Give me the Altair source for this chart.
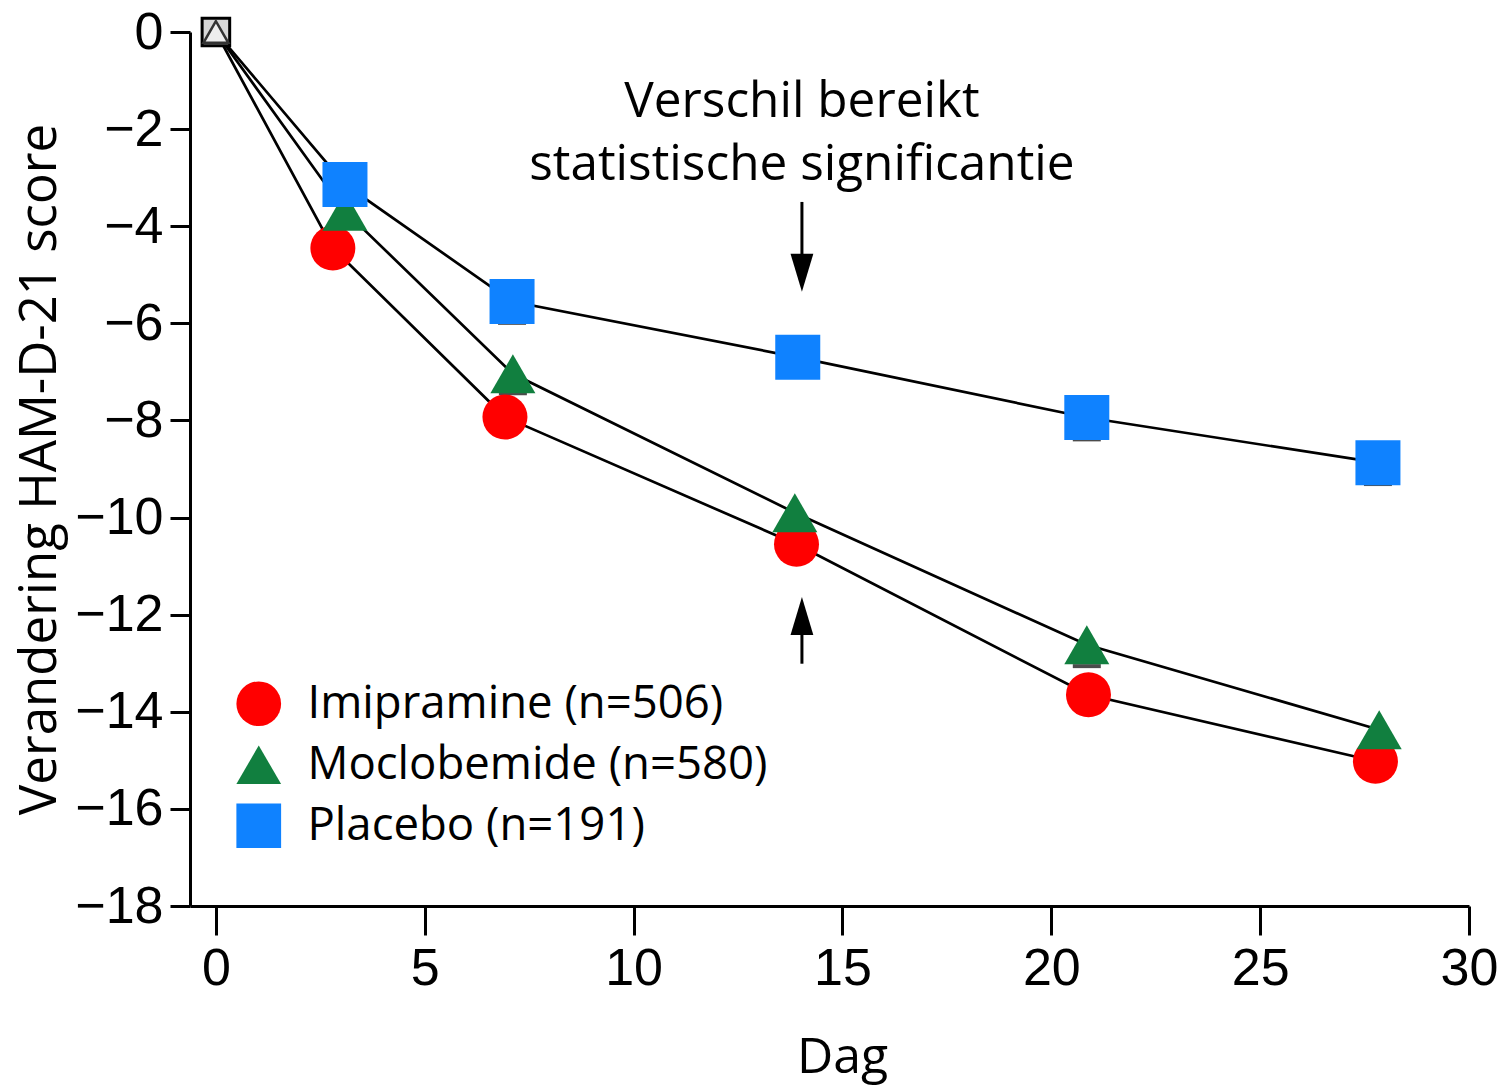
import altair as alt
import pandas as pd

# ---- data ----
series = ["Imipramine (n=506)", "Moclobemide (n=580)", "Placebo (n=191)"]
colors = ["#ff0000", "#117f3f", "#0f82ff"]
shapes = ["circle", "triangle-up", "square"]

imi_day = [0, 2.80, 6.92, 13.90, 20.89, 27.76]
imi_val = [0, -4.45, -7.93, -10.55, -13.65, -15.02]
imi_err = [0, 0.25, 0.25, 0.25, 0.25, 0.25]

moc_day = [0, 3.09, 7.11, 13.86, 20.85, 27.85]
moc_val = [0, -3.69, -7.04, -9.90, -12.62, -14.37]
moc_err = [0, 0.25, 0.40, 0.25, 0.44, 0.25]

pla_day = [0, 3.09, 7.09, 13.93, 20.85, 27.82]
pla_val = [0, -3.14, -5.55, -6.70, -7.94, -8.87]
pla_err = [0, 0.25, 0.44, 0.25, 0.45, 0.44]

x_ticks = [0, 5, 10, 15, 20, 25, 30]
y_ticks = [0, -2, -4, -6, -8, -10, -12, -14, -16, -18]

annot_lines = ["Verschil bereikt", "statistische significantie"]
annot_x = 14.03
annot_y = [-1.45, -2.73]

arrow_x = 14.03
arrow_down_shaft = (-3.50, -4.80)
arrow_down_head = -4.96
arrow_up_shaft = (-13.01, -12.20)
arrow_up_head = -12.03

# ---- tables ----
rows = []
for name, d, v, e in [(series[0], imi_day, imi_val, imi_err),
                      (series[1], moc_day, moc_val, moc_err),
                      (series[2], pla_day, pla_val, pla_err)]:
    for di, vi, ei in zip(d, v, e):
        rows.append({"series": name, "day": di, "val": vi, "low": vi - ei})
df = pd.DataFrame(rows)

annot_df = pd.DataFrame({"x": [annot_x] * 2, "y": annot_y, "t": annot_lines})
shaft_df = pd.DataFrame({"x": [arrow_x, arrow_x],
                         "y": [arrow_down_shaft[0], arrow_up_shaft[0]],
                         "y2": [arrow_down_shaft[1], arrow_up_shaft[1]]})
head_down_df = pd.DataFrame({"x": [arrow_x], "y": [arrow_down_head]})
head_up_df = pd.DataFrame({"x": [arrow_x], "y": [arrow_up_head]})
origin_df = pd.DataFrame({"x": [0], "y": [0]})

xs = alt.Scale(domain=[-0.62, 30], nice=False, zero=False)
ys = alt.Scale(domain=[-18, 0], nice=False, zero=False)

tick_font = "Liberation Sans"
text_font = "Open Sans"

X = alt.X("day:Q", scale=xs, axis=alt.Axis(
    values=x_ticks, format="d", title="Dag", grid=False,
    domainColor="black", domainWidth=3, tickColor="black", tickWidth=3, tickSize=29,
    labelFont=tick_font, labelFontSize=52, labelColor="black", labelPadding=8,
    labelFlush=False, labelOverlap=False,
    titleFont=text_font, titleFontSize=50, titleFontWeight="normal", titleColor="black",
    titleX=652, titleY=166, titleBaseline="alphabetic", titleAlign="center"))
Y = alt.Y("val:Q", scale=ys, axis=alt.Axis(
    values=y_ticks, format="d", title="Verandering HAM-D-21 score", grid=False,
    domainColor="black", domainWidth=3, tickColor="black", tickWidth=3, tickSize=20,
    labelFont=tick_font, labelFontSize=52, labelColor="black", labelPadding=7,
    labelFlush=False, labelOverlap=False,
    titleFont=text_font, titleFontSize=51, titleFontWeight="normal", titleColor="black",
    titleX=-150, titleY=437, titleAngle=270, titleAlign="center",
    titleBaseline="middle"))

leg = alt.Legend(title=None, orient="none", legendX=46, legendY=649,
                 labelFont=text_font, labelFontSize=45.5,
                 labelColor="black", labelOffset=26,
                 symbolSize=2000, symbolStrokeWidth=0, symbolOpacity=1,
                 rowPadding=14, padding=0, labelLimit=1000)

base = alt.Chart(df)

lines = base.mark_line(color="black", strokeWidth=2.7).encode(
    x=X, y=Y, detail="series:N", order="day:Q")

caps = base.transform_filter("datum.day > 0").mark_tick(
    orient="horizontal", color="black", size=28, thickness=4).encode(
    x=alt.X("day:Q", scale=xs), y=alt.Y("low:Q", scale=ys))

points = base.transform_filter("datum.day > 0").mark_point(
    filled=True, opacity=1, size=2025, strokeWidth=0).encode(
    x=alt.X("day:Q", scale=xs),
    y=alt.Y("val:Q", scale=ys),
    color=alt.Color("series:N", scale=alt.Scale(domain=series, range=colors), legend=leg),
    shape=alt.Shape("series:N", scale=alt.Scale(domain=series, range=shapes), legend=leg))

origin_sq = alt.Chart(origin_df).mark_point(
    shape="square", filled=True, size=760, stroke="black", strokeWidth=3,
    fill="#d8d8d8", opacity=1).encode(
    x=alt.X("x:Q", scale=xs), y=alt.Y("y:Q", scale=ys))
origin_tri = alt.Chart(origin_df).mark_point(
    shape="triangle-up", filled=True, size=620, stroke="#333333", strokeWidth=2.5,
    fill="#eeeeee", opacity=1).encode(
    x=alt.X("x:Q", scale=xs), y=alt.Y("y:Q", scale=ys))

annot = alt.Chart(annot_df).mark_text(
    font=text_font, fontSize=49.5, color="black", align="center", baseline="middle").encode(
    x=alt.X("x:Q", scale=xs), y=alt.Y("y:Q", scale=ys), text="t:N")

shafts = alt.Chart(shaft_df).mark_rule(color="black", strokeWidth=3).encode(
    x=alt.X("x:Q", scale=xs), y=alt.Y("y:Q", scale=ys), y2="y2:Q")

head_down = alt.Chart(head_down_df).mark_point(
    shape="M-0.6,-1L0.6,-1L0,1Z", filled=True, color="black", size=1444, opacity=1).encode(
    x=alt.X("x:Q", scale=xs), y=alt.Y("y:Q", scale=ys))
head_up = alt.Chart(head_up_df).mark_point(
    shape="M-0.6,1L0.6,1L0,-1Z", filled=True, color="black", size=1444, opacity=1).encode(
    x=alt.X("x:Q", scale=xs), y=alt.Y("y:Q", scale=ys))

chart = alt.layer(lines, caps, points, origin_sq, origin_tri, annot, shafts,
                  head_down, head_up).properties(
    width=1279, height=874,
    autosize=alt.AutoSizeParams(type="none"),
    padding={"left": 190, "top": 32, "right": 30, "bottom": 183},
    background="white",
).configure_view(stroke=None)

chart.save("out.html", embed_options={"renderer": "svg", "actions": False})
